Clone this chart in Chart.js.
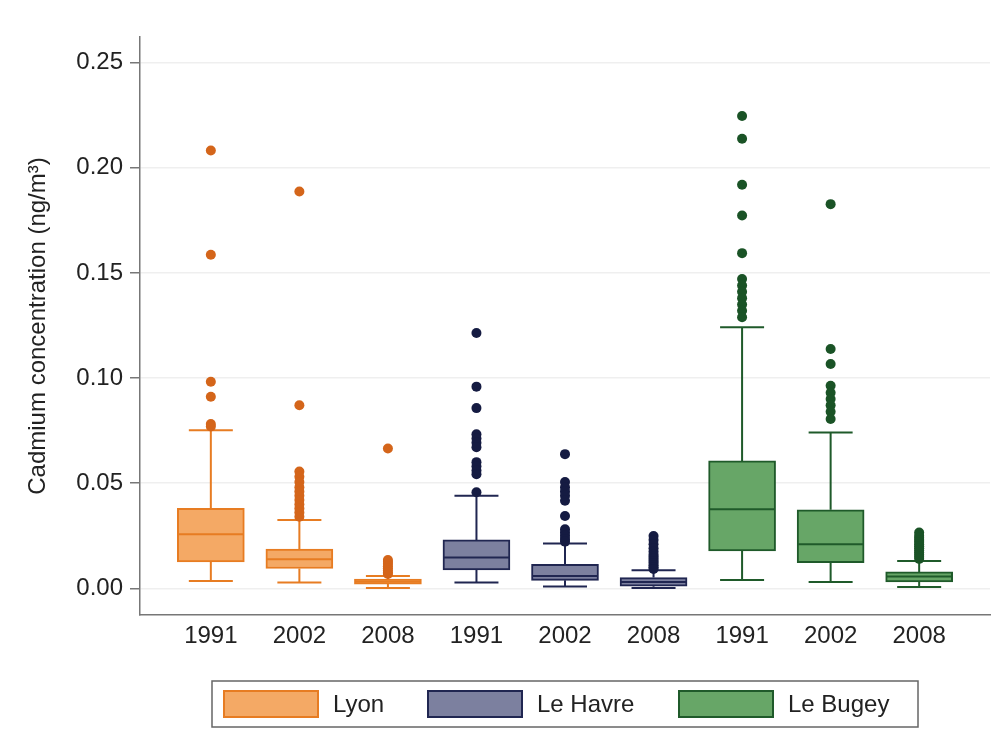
<!DOCTYPE html>
<html>
<head>
<meta charset="utf-8">
<script src="https://cdn.jsdelivr.net/npm/chart.js@4.4.1/dist/chart.umd.min.js"></script>
<style>
  html, body { margin: 0; padding: 0; background: #fff; }
  #wrap { width: 1004px; height: 738px; }
</style>
</head>
<body>
<div id="wrap"><canvas id="boxChart"></canvas></div>
<script>
// categories (one box each) and the site each one belongs to
const years = ['1991', '2002', '2008', '1991', '2002', '2008', '1991', '2002', '2008'];
const sites = ['Lyon', 'Le Havre', 'Le Bugey'];
const siteOf = [0, 0, 0, 1, 1, 1, 2, 2, 2];

// box statistics (ng/m3)
const whiskerLow  = [0.0035, 0.0027, 0.0002, 0.0027, 0.0008, 0.0002, 0.0040, 0.0030, 0.0006];
const q1          = [0.0125, 0.0094, 0.0020, 0.0087, 0.0038, 0.0010, 0.0178, 0.0122, 0.0030];
const median      = [0.0257, 0.0138, 0.0031, 0.0146, 0.0059, 0.0030, 0.0376, 0.0210, 0.0056];
const q3          = [0.0380, 0.0186, 0.0044, 0.0230, 0.0114, 0.0051, 0.0606, 0.0373, 0.0078];
const whiskerHigh = [0.0752, 0.0325, 0.0058, 0.0440, 0.0213, 0.0086, 0.1241, 0.0741, 0.0130];

const outliers = [
    [0.2082, 0.1586, 0.0982, 0.0911, 0.0781, 0.0770],
    [0.1887, 0.0871, 0.0555, 0.0530, 0.0505, 0.0480, 0.0460, 0.0440, 0.0420, 0.0400, 0.0380, 0.0360, 0.0340],
    [0.0665, 0.0135, 0.0125, 0.0115, 0.0105, 0.0095, 0.0085, 0.0075, 0.0068],
    [0.1214, 0.0959, 0.0857, 0.0733, 0.0712, 0.0692, 0.0671, 0.0600, 0.0580, 0.0560, 0.0543, 0.0457],
    [0.0638, 0.0505, 0.0480, 0.0460, 0.0440, 0.0416, 0.0344, 0.0281, 0.0265, 0.0250, 0.0235, 0.0222],
    [0.0249, 0.0230, 0.0210, 0.0190, 0.0175, 0.0160, 0.0150, 0.0140, 0.0130, 0.0120, 0.0110, 0.0100, 0.0092],
    [0.2246, 0.2138, 0.1919, 0.1773, 0.1594, 0.1471, 0.1440, 0.1410, 0.1380, 0.1350, 0.1320, 0.1289],
    [0.1827, 0.1138, 0.1067, 0.0963, 0.0930, 0.0900, 0.0870, 0.0840, 0.0805],
    [0.0265, 0.0250, 0.0240, 0.0230, 0.0220, 0.0210, 0.0200, 0.0190, 0.0180, 0.0170, 0.0160, 0.0150, 0.0140]
];

const yTicks = [0, 0.05, 0.10, 0.15, 0.20, 0.25];
const yTickLabels = ['0.00', '0.05', '0.10', '0.15', '0.20', '0.25'];

// colours per site
const fillColors = ['#f4a965', '#7c809f', '#67a667'];
const lineColors = ['#e77c22', '#202651', '#1f5a2a'];
const dotColors  = ['#d4651a', '#151b42', '#1a5326'];

const FONT = "'Liberation Sans', Arial, sans-serif";
const BOX_W = 67;
const CAP_W = 44;

// whiskers + caps behind the boxes, medians on top
const whiskerPlugin = {
    id: 'whiskers',
    beforeDatasetsDraw(chart) {
        const { ctx, scales: { x, y } } = chart;
        ctx.save();
        ctx.lineWidth = 2;
        years.forEach((yr, i) => {
            const cx = x.getPixelForValue(i + 1);
            const hi = y.getPixelForValue(whiskerHigh[i]);
            const lo = y.getPixelForValue(whiskerLow[i]);
            ctx.strokeStyle = lineColors[siteOf[i]];
            ctx.beginPath();
            ctx.moveTo(cx, y.getPixelForValue(q3[i]));
            ctx.lineTo(cx, hi);
            ctx.moveTo(cx, y.getPixelForValue(q1[i]));
            ctx.lineTo(cx, lo);
            ctx.moveTo(cx - CAP_W / 2, hi);
            ctx.lineTo(cx + CAP_W / 2, hi);
            ctx.moveTo(cx - CAP_W / 2, lo);
            ctx.lineTo(cx + CAP_W / 2, lo);
            ctx.stroke();
        });
        ctx.restore();
    },
    afterDatasetsDraw(chart) {
        const { ctx, scales: { x, y } } = chart;
        ctx.save();
        ctx.lineWidth = 2;
        years.forEach((yr, i) => {
            const cx = x.getPixelForValue(i + 1);
            const m = y.getPixelForValue(median[i]);
            ctx.strokeStyle = lineColors[siteOf[i]];
            ctx.beginPath();
            ctx.moveTo(cx - BOX_W / 2 + 1, m);
            ctx.lineTo(cx + BOX_W / 2 - 1, m);
            ctx.stroke();
        });
        ctx.restore();
    }
};

// framed legend under the axis
const legendPlugin = {
    id: 'framedLegend',
    afterDraw(chart) {
        const { ctx, chartArea } = chart;
        const w = 706, h = 46;
        const left = (chartArea.left + chartArea.right) / 2 - w / 2;
        const top = 681;
        const itemX = [11, 215, 466];
        ctx.save();
        ctx.strokeStyle = '#666';
        ctx.lineWidth = 1.5;
        ctx.strokeRect(left, top, w, h);
        ctx.font = '24px ' + FONT;
        ctx.textBaseline = 'middle';
        sites.forEach((s, k) => {
            const sx = left + itemX[k];
            ctx.fillStyle = fillColors[k];
            ctx.fillRect(sx, top + 9, 96, 28);
            ctx.strokeStyle = lineColors[k];
            ctx.lineWidth = 2;
            ctx.strokeRect(sx + 1, top + 10, 94, 26);
            ctx.fillStyle = '#222';
            ctx.fillText(s, sx + 110, top + 24);
        });
        ctx.restore();
    }
};

const datasets = [];
sites.forEach((s, k) => {
    const idx = years.map((_, i) => i).filter(i => siteOf[i] === k);
    datasets.push({
        type: 'bar',
        label: s,
        data: idx.map(i => ({ x: i + 1, y: [q1[i], q3[i]] })),
        backgroundColor: fillColors[k],
        borderColor: lineColors[k],
        borderWidth: 2,
        borderSkipped: false,
        barThickness: BOX_W,
        grouped: false,
        order: 2
    });
});
sites.forEach((s, k) => {
    const pts = [];
    years.forEach((_, i) => {
        if (siteOf[i] !== k) return;
        outliers[i].forEach(v => pts.push({ x: i + 1, y: v }));
    });
    datasets.push({
        type: 'scatter',
        label: s + ' outliers',
        data: pts,
        backgroundColor: dotColors[k],
        borderWidth: 0,
        pointRadius: 5,
        order: 1
    });
});

const ctx = document.getElementById('boxChart').getContext('2d');
const boxChart = new Chart(ctx, {
    type: 'bar',
    data: { datasets: datasets },
    options: {
        responsive: true,
        maintainAspectRatio: false,
        animation: false,
        layout: { padding: { top: 37, right: 14, bottom: 0, left: 0 } },
        plugins: {
            legend: { display: false },
            tooltip: { enabled: false }
        },
        scales: {
            x: {
                type: 'linear',
                min: 0.2,
                max: 9.8,
                offset: false,
                afterBuildTicks: scale => { scale.ticks = years.map((_, i) => ({ value: i + 1 })); },
                afterFit: scale => { scale.height = 123; },
                ticks: {
                    callback: (v, i) => years[i],
                    font: { family: FONT, size: 24 },
                    color: '#222',
                    padding: 7,
                    maxRotation: 0,
                    autoSkip: false
                },
                grid: { display: false, drawTicks: false },
                border: { display: true, color: '#777', width: 1.5 }
            },
            y: {
                min: -0.0127,
                max: 0.2622,
                afterBuildTicks: scale => { scale.ticks = yTicks.map(v => ({ value: v })); },
                afterFit: scale => { scale.width = 140; },
                ticks: {
                    callback: (v, i) => yTickLabels[i],
                    font: { family: FONT, size: 24 },
                    color: '#222',
                    padding: 7
                },
                grid: { color: '#efefef', lineWidth: 1.5, tickLength: 10, tickColor: '#777' },
                border: { display: true, color: '#777', width: 1.5 },
                title: {
                    display: true,
                    text: 'Cadmium concentration (ng/m³)',
                    font: { family: FONT, size: 24 },
                    color: '#222',
                    padding: { top: 24, bottom: 0 }
                }
            }
        }
    },
    plugins: [whiskerPlugin, legendPlugin]
});
</script>
</body>
</html>
